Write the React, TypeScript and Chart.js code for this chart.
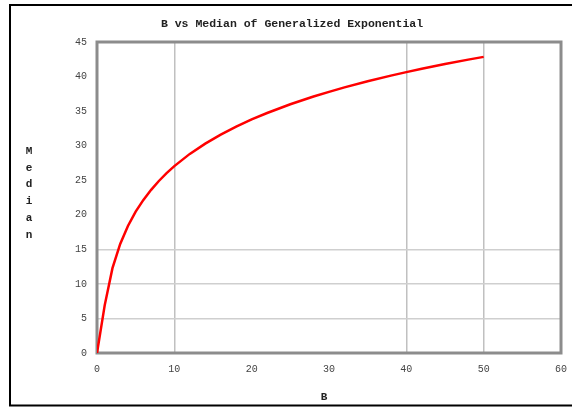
import React, { useEffect, useRef } from "react";
import { Chart, registerables } from "chart.js";

Chart.register(...registerables);

// Shape parameter B and the corresponding median
const bValues = [0, 1, 2, 3, 4, 5, 6, 7, 8, 9, 10, 12, 14, 16, 18, 20, 22, 25, 28, 30, 32, 35, 38, 40, 42, 45, 48, 50];
const medianValues = [0, 6.93, 12.28, 15.78, 18.38, 20.45, 22.15, 23.61, 24.89, 26.02, 27.04, 28.81, 30.3, 31.6, 32.75, 33.8, 34.73, 35.99, 37.11, 37.79, 38.43, 39.32, 40.13, 40.64, 41.12, 41.81, 42.45, 42.85];

const xTicks = [0, 10, 20, 30, 40, 50, 60];
const yTicks = [0, 5, 10, 15, 20, 25, 30, 35, 40, 45];
const xGridShown = [10, 40, 50];
const yGridShown = [5, 10, 15];

const titleText = "B vs Median of Generalized Exponential";
const xTitle = "B";
const yTitle = "Median";

const MONO = '"Liberation Mono", "DejaVu Sans Mono", monospace';

const decorations = {
  id: "decorations",
  beforeDatasetsDraw(chart: any) {
    const { ctx, chartArea } = chart;
    ctx.save();
    ctx.strokeStyle = "#8c8c8c";
    ctx.lineWidth = 3;
    ctx.strokeRect(chartArea.left, chartArea.top, chartArea.right - chartArea.left, chartArea.bottom - chartArea.top);
    ctx.restore();
  },
  afterDraw(chart: any) {
    const { ctx, width, height } = chart;
    ctx.save();
    // outer frame, open on the right
    ctx.strokeStyle = "#000";
    ctx.lineWidth = 2;
    ctx.beginPath();
    ctx.moveTo(width, 5);
    ctx.lineTo(10, 5);
    ctx.lineTo(10, height - 1.5);
    ctx.lineTo(width, height - 1.5);
    ctx.stroke();

    ctx.fillStyle = "#222";
    ctx.textAlign = "center";
    ctx.textBaseline = "middle";
    ctx.font = `bold 11.5px ${MONO}`;
    ctx.fillText(titleText, 292, 24);

    ctx.font = `bold 11px ${MONO}`;
    ctx.fillText(xTitle, 324, 397);

    const letters = Array.from(yTitle);
    letters.forEach((ch, i) => {
      ctx.fillText(ch, 29, 151 + i * 16.8);
    });
    ctx.restore();
  },
};

export default function App() {
  const canvasRef = useRef<HTMLCanvasElement | null>(null);

  useEffect(() => {
    document.body.style.margin = "0";
    const canvas = canvasRef.current;
    if (!canvas) return;
    const chart = new Chart(canvas, {
      type: "line",
      data: {
        datasets: [
          {
            data: bValues.map((b, i) => ({ x: b, y: medianValues[i] })),
            borderColor: "#ff0000",
            borderWidth: 2.5,
            pointRadius: 0,
            tension: 0,
            fill: false,
          },
        ],
      },
      options: {
        animation: false,
        responsive: false,
        devicePixelRatio: 1,
        layout: { padding: { top: 42, right: 11, left: 0, bottom: 0 } },
        plugins: {
          legend: { display: false },
          title: { display: false },
          tooltip: { enabled: false },
        },
        scales: {
          x: {
            type: "linear",
            min: 0,
            max: 60,
            afterBuildTicks(scale: any) {
              scale.ticks = xTicks.map((v) => ({ value: v }));
            },
            afterFit(scale: any) {
              scale.height = 54;
              scale.paddingRight = 0;
              scale.paddingLeft = 0;
            },
            border: { display: false },
            grid: {
              drawTicks: false,
              lineWidth: 1.5,
              color: (c: any) => (c.tick && xGridShown.includes(c.tick.value) ? "#c0c0c0" : "rgba(0,0,0,0)"),
            },
            ticks: {
              padding: 10,
              color: "#444",
              font: { family: MONO, size: 10 },
              maxRotation: 0,
              callback: (v: any) => String(v),
            },
          },
          y: {
            type: "linear",
            min: 0,
            max: 45,
            afterBuildTicks(scale: any) {
              scale.ticks = yTicks.map((v) => ({ value: v }));
            },
            afterFit(scale: any) {
              scale.width = 97;
              scale.paddingTop = 0;
              scale.paddingBottom = 0;
            },
            border: { display: false },
            grid: {
              drawTicks: false,
              lineWidth: 1.5,
              color: (c: any) => (c.tick && yGridShown.includes(c.tick.value) ? "#cfcfcf" : "rgba(0,0,0,0)"),
            },
            ticks: {
              padding: 10,
              color: "#444",
              font: { family: MONO, size: 10 },
              callback: (v: any) => String(v),
            },
          },
        },
      },
      plugins: [decorations],
    });
    return () => chart.destroy();
  }, []);

  return (
    <div style={{ position: "absolute", left: 0, top: 0, width: 572, height: 407, background: "#fff" }}>
      <canvas ref={canvasRef} width={572} height={407} />
    </div>
  );
}
